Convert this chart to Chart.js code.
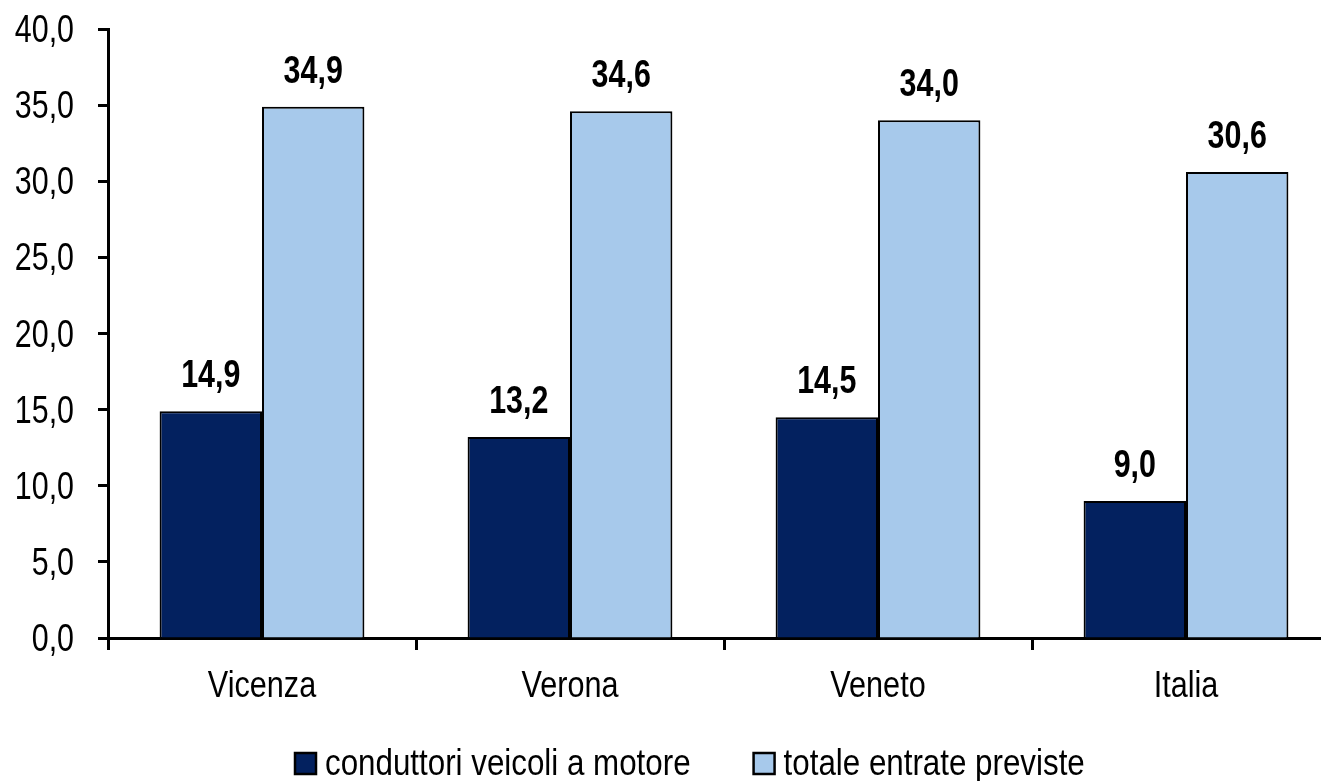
<!DOCTYPE html>
<html>
<head>
<meta charset="utf-8">
<script src="https://cdn.jsdelivr.net/npm/chart.js@4"></script>
<style>
  html, body { margin: 0; padding: 0; background: #fff; overflow: hidden; }
  #wrap { width: 1321px; height: 781px; overflow: hidden; }
</style>
</head>
<body>
<div id="wrap"><canvas id="chart" width="1340" height="781"></canvas></div>
<script>
const FONT = "'Liberation Sans', Arial, sans-serif";

const categories = ["Vicenza", "Verona", "Veneto", "Italia"];
const seriesNames = ["conduttori veicoli a motore", "totale entrate previste"];
const conducenti = [14.9, 13.2, 14.5, 9.0];
const totale = [34.9, 34.6, 34.0, 30.6];
const yTicks = [0, 5, 10, 15, 20, 25, 30, 35, 40];
const colors = ["#03215F", "#A7C9EB"];

function fmt(v) {
    return v.toFixed(1).replace(".", ",");
}

// the original uses a narrow font, so squeeze the text a bit
function narrowText(ctx, text, x, y, align, font, sx) {
    ctx.save();
    ctx.font = font;
    ctx.fillStyle = "#000";
    ctx.textAlign = align;
    ctx.textBaseline = "alphabetic";
    ctx.translate(x, y);
    ctx.scale(sx, 1);
    ctx.fillText(text, 0, 0);
    ctx.restore();
}

const textLayer = {
    id: "textLayer",
    afterDraw(chart) {
        let ctx = chart.ctx;
        let xs = chart.scales.x;
        let ys = chart.scales.y;

        // y tick labels
        yTicks.forEach(function(v) {
            narrowText(ctx, fmt(v), 74, ys.getPixelForValue(v) + 13, "right", "38px " + FONT, 0.8);
        });

        // category labels
        categories.forEach(function(c, i) {
            narrowText(ctx, c, xs.getPixelForTick(i), chart.chartArea.bottom + 59, "center", "36px " + FONT, 0.85);
        });

        // values over bars
        chart.data.datasets.forEach(function(ds, i) {
            let meta = chart.getDatasetMeta(i);
            meta.data.forEach(function(bar, j) {
                narrowText(ctx, fmt(ds.data[j]), bar.x, bar.y - 24, "center", "bold 38px " + FONT, 0.8);
            });
        });

        // legend
        let lx = 295;
        let ly = 775;
        let legFont = "36px " + FONT;
        chart.data.datasets.forEach(function(ds, i) {
            ctx.save();
            ctx.fillStyle = ds.backgroundColor;
            ctx.strokeStyle = "#000";
            ctx.lineWidth = 2.5;
            ctx.fillRect(lx, ly - 22, 21, 21);
            ctx.strokeRect(lx, ly - 22, 21, 21);
            ctx.font = legFont;
            let w = ctx.measureText(ds.label).width * 0.87;
            ctx.restore();
            narrowText(ctx, ds.label, lx + 30, ly, "left", legFont, 0.87);
            lx = lx + 30 + w + 63;
        });
    }
};

let ctx = document.getElementById("chart").getContext("2d");
let chart = new Chart(ctx, {
    type: "bar",
    data: {
        labels: categories,
        datasets: [
            {
                label: seriesNames[0],
                data: conducenti,
                backgroundColor: colors[0],
                borderColor: "#000",
                borderWidth: 2,
                borderSkipped: "bottom"
            },
            {
                label: seriesNames[1],
                data: totale,
                backgroundColor: colors[1],
                borderColor: "#000",
                borderWidth: 2,
                borderSkipped: "bottom"
            }
        ]
    },
    options: {
        responsive: false,
        animation: false,
        devicePixelRatio: 1,
        categoryPercentage: 0.665,
        barPercentage: 1.0,
        layout: { padding: { top: 29, right: 0, left: 0, bottom: 0 } },
        plugins: {
            tooltip: { enabled: false },
            legend: { display: false }
        },
        scales: {
            x: {
                grid: {
                    display: true,
                    drawOnChartArea: false,
                    drawTicks: true,
                    tickLength: 12,
                    tickWidth: 3,
                    tickColor: "#000",
                    offset: true
                },
                border: { display: true, color: "#000", width: 3 },
                ticks: { display: false },
                afterFit: function(scale) { scale.height = 143; }
            },
            y: {
                min: 0,
                max: 40,
                afterBuildTicks: function(scale) {
                    scale.ticks = yTicks.map(function(v) { return { value: v }; });
                },
                grid: {
                    display: true,
                    drawOnChartArea: false,
                    drawTicks: true,
                    tickLength: 10,
                    tickWidth: 3,
                    tickColor: "#000"
                },
                border: { display: true, color: "#000", width: 3 },
                ticks: { display: false },
                afterFit: function(scale) { scale.width = 108; }
            }
        }
    },
    plugins: [textLayer]
});
</script>
</body>
</html>
